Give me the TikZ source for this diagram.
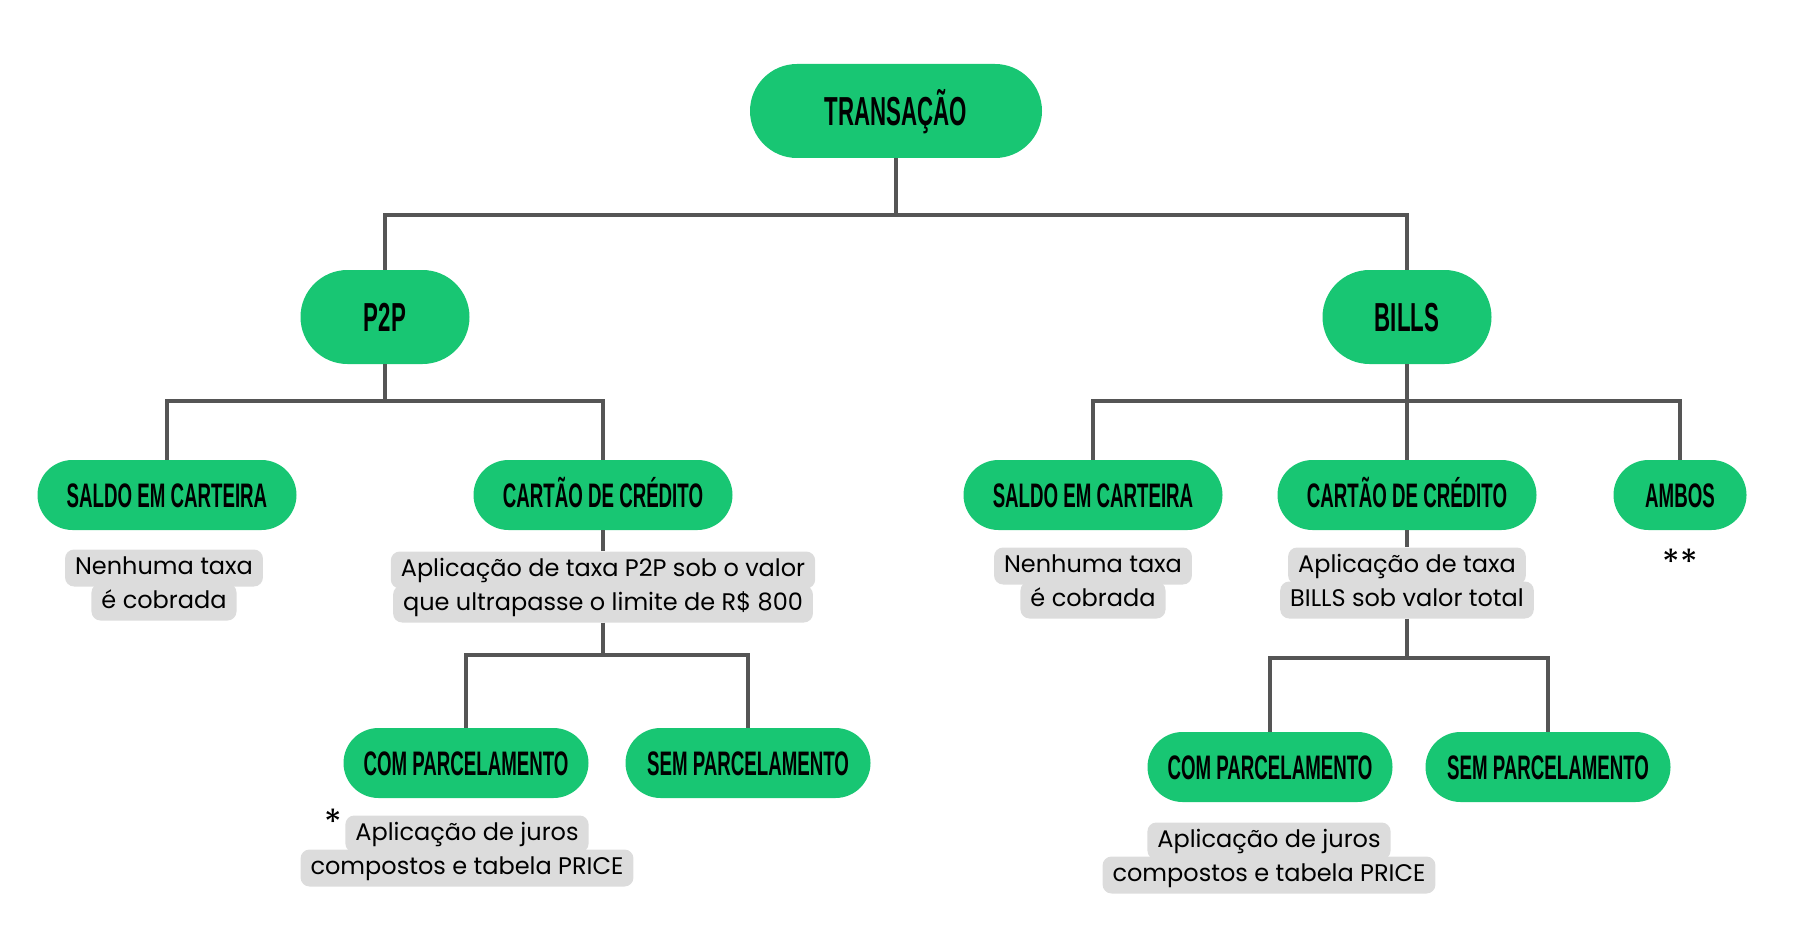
\documentclass[tikz,border=0pt]{standalone}
\usepackage{fontspec}
\setmainfont{Poppins}
\newfontfamily\pillfont{Liberation Sans}[FakeStretch=0.55]
\usetikzlibrary{shapes.misc}

\definecolor{pillgreen}{HTML}{18C673}
\definecolor{notegray}{HTML}{DCDCDC}
\definecolor{linkgray}{HTML}{555555}

\tikzset{
  pill/.style={rounded rectangle, fill=pillgreen, inner sep=0pt, minimum height=70,
    text height=24, text depth=0,
    font=\pillfont\bfseries\fontsize{34}{34}\selectfont},
  bigpill/.style={pill, minimum height=94, text height=29,
    font=\pillfont\bfseries\fontsize{40.5}{40.5}\selectfont},
  noteline/.style={fill=notegray, rounded corners=9, inner xsep=10, inner ysep=0,
    minimum height=37, text height=17, text depth=5, font=\fontsize{24}{33}\selectfont},
  starmark/.style={inner sep=0pt, font=\fontsize{36}{36}\selectfont},
  link/.style={draw=linkgray, line width=3.5},
}

\begin{document}
\begin{tikzpicture}[x=1pt, y=-1pt]
	\useasboundingbox (0,0) rectangle (1795,936);

	% top levels
	\node[bigpill, minimum width=292] (trans) at (896,111) {TRANSAÇÃO};
	\node[bigpill, minimum width=169] (p2p) at (385,317) {P2P};
	\node[bigpill, minimum width=169] (bills) at (1407,317) {BILLS};

	% payment types
	\node[pill, minimum width=259] (saldoL) at (167,495) {SALDO EM CARTEIRA};
	\node[pill, minimum width=259] (cartaoL) at (603,495) {CARTÃO DE CRÉDITO};
	\node[pill, minimum width=259] (saldoR) at (1093,495) {SALDO EM CARTEIRA};
	\node[pill, minimum width=259] (cartaoR) at (1407,495) {CARTÃO DE CRÉDITO};
	\node[pill, minimum width=133] (ambos) at (1680,495) {AMBOS};

	% installments
	\node[pill, minimum width=245] (comL) at (466,763) {COM PARCELAMENTO};
	\node[pill, minimum width=245] (semL) at (748,763) {SEM PARCELAMENTO};
	\node[pill, minimum width=245] (comR) at (1270,767) {COM PARCELAMENTO};
	\node[pill, minimum width=245] (semR) at (1548,767) {SEM PARCELAMENTO};

	% notes
	\node[noteline] (noteLa) at (164,568) {Nenhuma taxa};
	\node[noteline] (noteLb) at (164,602) {é cobrada};

	\node[noteline] (notePa) at (603,570) {Aplicação de taxa P2P sob o valor};
	\node[noteline] (notePb) at (603,604) {que ultrapasse o limite de R\$ 800};

	\node[noteline] (noteJa) at (467,834) {Aplicação de juros};
	\node[noteline] (noteJb) at (467,868) {compostos e tabela PRICE};
	\node[starmark] (star1) at (333,822) {*};

	\node[noteline] (noteRa) at (1093,566) {Nenhuma taxa};
	\node[noteline] (noteRb) at (1093,600) {é cobrada};

	\node[noteline] (noteBa) at (1407,566) {Aplicação de taxa};
	\node[noteline] (noteBb) at (1407,600) {BILLS sob valor total};
	\node[starmark] (star2) at (1680,562) {**};

	\node[noteline] (noteKa) at (1269,841) {Aplicação de juros};
	\node[noteline] (noteKb) at (1269,875) {compostos e tabela PRICE};

	% junctions
	\coordinate (j1) at (896,215);
	\coordinate (j2) at (385,401);
	\coordinate (j3) at (603,655);
	\coordinate (j4) at (1407,401);
	\coordinate (j5) at (1407,658);

	% links
	\draw[link] (trans.south) -- (j1);
	\draw[link] (p2p.north) |- (j1) -| (bills.north);

	\draw[link] (p2p.south) -- (j2);
	\draw[link] (saldoL.north) |- (j2) -| (cartaoL.north);
	\draw[link] (cartaoL.south) -- (notePa.north);
	\draw[link] (notePb.south) -- (j3);
	\draw[link] (comL.north) |- (j3) -| (semL.north);

	\draw[link] (bills.south) -- (j4);
	\draw[link] (saldoR.north) |- (j4) -| (ambos.north);
	\draw[link] (j4) -- (cartaoR.north);
	\draw[link] (cartaoR.south) -- (noteBa.north);
	\draw[link] (noteBb.south) -- (j5);
	\draw[link] (comR.north) |- (j5) -| (semR.north);
\end{tikzpicture}
\end{document}
